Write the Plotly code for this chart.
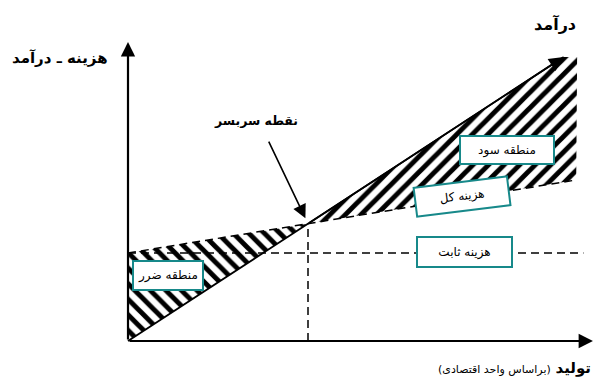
import plotly.graph_objects as go

# break-even chart values (arbitrary units)
rev_q = [0, 10, 24.2]
rev_v = [0, 40, 96.8]
tc_q = [0, 10, 24.9]
tc_v = [30, 40, 54.9]
fc_q = [0, 25.3]
fc_v = [30, 30]
be_q = 10
be_v = 40

# hatched areas
profit_q = [10, 24.2, 24.95, 24.9, 10]
profit_v = [40, 96.8, 96.8, 54.9, 40]
loss_q = [0, 0, 10, 0]
loss_v = [0, 30, 40, 0]

# axis extents
x_end = 25.83
y_end = 101.9

TEAL = '#17898a'
AR = 'DejaVu Sans, Noto Sans, sans-serif'

fig = go.Figure()

hatch = dict(fgcolor='black', bgcolor='white', fgopacity=1, size=11, solidity=0.45)
fig.add_trace(go.Scatter(x=profit_q, y=profit_v, mode='lines', fill='toself',
                         fillcolor='white', line=dict(width=0),
                         fillpattern=dict(shape='/', **hatch), hoverinfo='skip'))
fig.add_trace(go.Scatter(x=loss_q, y=loss_v, mode='lines', fill='toself',
                         fillcolor='white', line=dict(width=0),
                         fillpattern=dict(shape='\\', **hatch), hoverinfo='skip'))

# fixed cost, total cost, break-even vertical
dash = dict(color='black', width=1.5, dash='8px,5px')
fig.add_trace(go.Scatter(x=fc_q, y=fc_v, mode='lines', line=dash))
fig.add_trace(go.Scatter(x=tc_q, y=tc_v, mode='lines', line=dash))
fig.add_trace(go.Scatter(x=[be_q, be_q], y=[0, be_v], mode='lines', line=dash))

# revenue
fig.add_trace(go.Scatter(x=rev_q, y=rev_v, mode='lines',
                         line=dict(color='black', width=1.8)))

anns = []
# axes with arrow heads
anns.append(dict(x=0, y=y_end, ax=0, ay=0, xref='x', yref='y', axref='x', ayref='y',
                 showarrow=True, arrowhead=2, arrowwidth=2.2, arrowsize=1.3,
                 arrowcolor='black', text=''))
anns.append(dict(x=x_end, y=0, ax=0, ay=0, xref='x', yref='y', axref='x', ayref='y',
                 showarrow=True, arrowhead=2, arrowwidth=2.2, arrowsize=1.3,
                 arrowcolor='black', text=''))
# revenue head
anns.append(dict(x=rev_q[-1], y=rev_v[-1], ax=rev_q[-2], ay=rev_v[-2], xref='x', yref='y',
                 axref='x', ayref='y', showarrow=True, arrowhead=2, arrowwidth=1.8,
                 arrowsize=1.6, arrowcolor='black', text=''))
# break-even pointer
anns.append(dict(x=be_q, y=be_v, ax=7.78, ay=68.5, xref='x', yref='y', axref='x', ayref='y',
                 showarrow=True, arrowhead=2, arrowwidth=1.6, arrowsize=1.7, standoff=6,
                 arrowcolor='black', text=''))

# bold labels
anns.append(dict(x=23.72, y=108.1, text='<b>درآمد</b>', showarrow=False,
                 font=dict(family=AR, size=16, color='black')))
anns.append(dict(x=-3.78, y=96.5, text='<b>هزینه ـ درآمد</b>', showarrow=False,
                 font=dict(family=AR, size=15, color='black')))
anns.append(dict(x=7.11, y=75.3, text='<b>نقطه سربسر</b>', showarrow=False,
                 font=dict(family=AR, size=12.5, color='black')))
anns.append(dict(x=25.83, y=-9.2, xanchor='right',
                 text='\u200f<b>تولید</b> <span style="font-size:11px">(براساس واحد اقتصادی)</span>\u200f',
                 showarrow=False, font=dict(family=AR, size=15, color='black')))

# boxed labels
boxes = [
    ('منطقه سود', 21.06, 65.1, 0, 90, 24),
    ('هزینه کل', 18.56, 49.4, -7, 90, 25),
    ('هزینه ثابت', 18.67, 30.3, 0, 91, 26),
    ('منطقه ضرر', 2.22, 22.2, 0, 66, 25),
]
for txt, bx, by, ang, w, h in boxes:
    anns.append(dict(x=bx, y=by, text=txt, showarrow=False, textangle=ang,
                     width=w, height=h, bgcolor='white', bordercolor=TEAL,
                     borderwidth=2, borderpad=1,
                     font=dict(family=AR, size=12, color='black')))

fig.update_layout(
    width=595, height=379,
    margin=dict(l=0, r=0, t=0, b=0),
    paper_bgcolor='white', plot_bgcolor='white',
    showlegend=False,
    xaxis=dict(range=[-7.111, 25.944], visible=False, fixedrange=True),
    yaxis=dict(range=[-12.95, 116.25], visible=False, fixedrange=True),
    annotations=anns,
)

fig.write_html("out.html", config={'displayModeBar': False},
               post_script="document.body.style.margin='0';")
